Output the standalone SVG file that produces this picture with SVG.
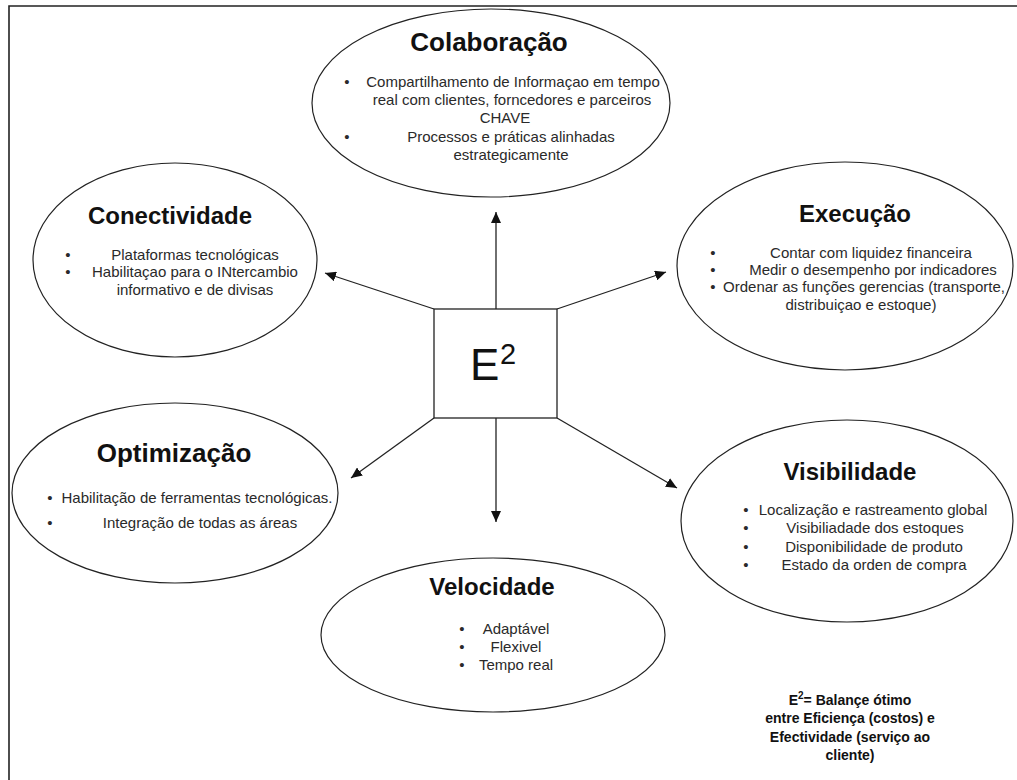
<svg xmlns="http://www.w3.org/2000/svg" width="1017" height="780" viewBox="0 0 1017 780">
<defs>
<marker id="ah" markerUnits="userSpaceOnUse" markerWidth="12" markerHeight="10" refX="11" refY="5" orient="auto">
<path d="M0,0 L11,5 L0,10 z" fill="#111"/>
</marker>
</defs>
<style>
.ell{fill:#fff;stroke:#222;stroke-width:1.2}
.t{font-family:"Liberation Sans",Arial,Helvetica,sans-serif;font-weight:bold;fill:#111;text-anchor:middle}
.b{font-family:"Liberation Sans",Arial,Helvetica,sans-serif;font-size:15px;fill:#2a2a2a;text-anchor:middle}
.d{font-family:"Liberation Sans",Arial,Helvetica,sans-serif;font-size:15px;fill:#2a2a2a;text-anchor:middle}
.c{stroke:#222;stroke-width:1.3;fill:none;marker-end:url(#ah)}
.n{font-family:"Liberation Sans",Arial,Helvetica,sans-serif;font-weight:bold;font-size:14px;fill:#111;text-anchor:middle}
</style>
<rect width="1017" height="780" fill="#fff"/>
<path d="M9,780 L9,6 L1017,6" fill="none" stroke="#222" stroke-width="1.6"/>

<g id="colaboracao">
<ellipse class="ell" cx="491" cy="103" rx="179" ry="94"/>
<text class="t" x="489" y="51" font-size="26">Colaboração</text>
<text class="d" x="347" y="87">•</text>
<text class="b" x="513" y="87">Compartilhamento de Informaçao em tempo</text>
<text class="b" x="512" y="105">real com clientes, forncedores e parceiros</text>
<text class="b" x="505" y="123">CHAVE</text>
<text class="d" x="347" y="142">•</text>
<text class="b" x="511" y="142">Processos e práticas alinhadas</text>
<text class="b" x="511" y="160">estrategicamente</text>
</g>

<g id="conectividade">
<ellipse class="ell" cx="175" cy="260" rx="142" ry="97"/>
<text class="t" x="170" y="224" font-size="24">Conectividade</text>
<text class="d" x="68" y="260">•</text>
<text class="b" x="195" y="260">Plataformas tecnológicas</text>
<text class="d" x="68" y="277">•</text>
<text class="b" x="195" y="277">Habilitaçao para o INtercambio</text>
<text class="b" x="195" y="295">informativo e de divisas</text>
</g>

<g id="execucao">
<ellipse class="ell" cx="845" cy="266" rx="168" ry="104"/>
<text class="t" x="855" y="222" font-size="24">Execução</text>
<text class="d" x="713" y="258">•</text>
<text class="b" x="871" y="258">Contar com liquidez financeira</text>
<text class="d" x="713" y="275">•</text>
<text class="b" x="873" y="275">Medir o desempenho por indicadores</text>
<text class="d" x="713" y="292">•</text>
<text class="b" x="864" y="292">Ordenar as funções gerencias (transporte,</text>
<text class="b" x="861" y="310">distribuiçao e estoque)</text>
</g>

<g id="e2">
<rect x="434" y="309" width="123" height="109" fill="#fff" stroke="#222" stroke-width="1.3"/>
<text x="470" y="380" font-family="'Liberation Sans',Arial,sans-serif" font-size="44" fill="#111">E</text>
<text x="500" y="364" font-family="'Liberation Sans',Arial,sans-serif" font-size="29" fill="#111">2</text>
</g>

<g id="optimizacao">
<ellipse class="ell" cx="175" cy="493" rx="163" ry="90"/>
<text class="t" x="174" y="462" font-size="26">Optimização</text>
<text class="d" x="50" y="503">•</text>
<text class="b" x="197" y="503">Habilitação de ferramentas tecnológicas.</text>
<text class="d" x="50" y="528">•</text>
<text class="b" x="200" y="528">Integração de todas as áreas</text>
</g>

<g id="visibilidade">
<ellipse class="ell" cx="847" cy="521" rx="166" ry="101"/>
<text class="t" x="850" y="480" font-size="24">Visibilidade</text>
<text class="d" x="746" y="515">•</text>
<text class="b" x="873" y="515">Localização e rastreamento global</text>
<text class="d" x="746" y="533">•</text>
<text class="b" x="875" y="533">Visibiliadade dos estoques</text>
<text class="d" x="746" y="552">•</text>
<text class="b" x="874" y="552">Disponibilidade de produto</text>
<text class="d" x="746" y="570">•</text>
<text class="b" x="874" y="570">Estado da orden de compra</text>
</g>

<g id="velocidade">
<ellipse class="ell" cx="493" cy="635" rx="172" ry="77"/>
<text class="t" x="492" y="595" font-size="24">Velocidade</text>
<text class="d" x="462" y="634">•</text>
<text class="b" x="516" y="634">Adaptável</text>
<text class="d" x="462" y="652">•</text>
<text class="b" x="516" y="652">Flexivel</text>
<text class="d" x="462" y="670">•</text>
<text class="b" x="516" y="670">Tempo real</text>
</g>

<g id="nota">
<text class="n" x="850" y="705">E<tspan dy="-6" font-size="10">2</tspan><tspan dy="6">= Balançe ótimo</tspan></text>
<text class="n" x="850" y="723">entre Eficiença (costos) e</text>
<text class="n" x="850" y="742">Efectividade (serviço ao</text>
<text class="n" x="850" y="760">cliente)</text>
</g>

<g id="connectors">
<line class="c" x1="496" y1="309" x2="496" y2="212"/>
<line class="c" x1="434" y1="309" x2="325" y2="273"/>
<line class="c" x1="557" y1="309" x2="666" y2="272"/>
<line class="c" x1="434" y1="418" x2="351" y2="478"/>
<line class="c" x1="496" y1="418" x2="496" y2="522"/>
<line class="c" x1="557" y1="418" x2="677" y2="488"/>
</g>
</svg>
